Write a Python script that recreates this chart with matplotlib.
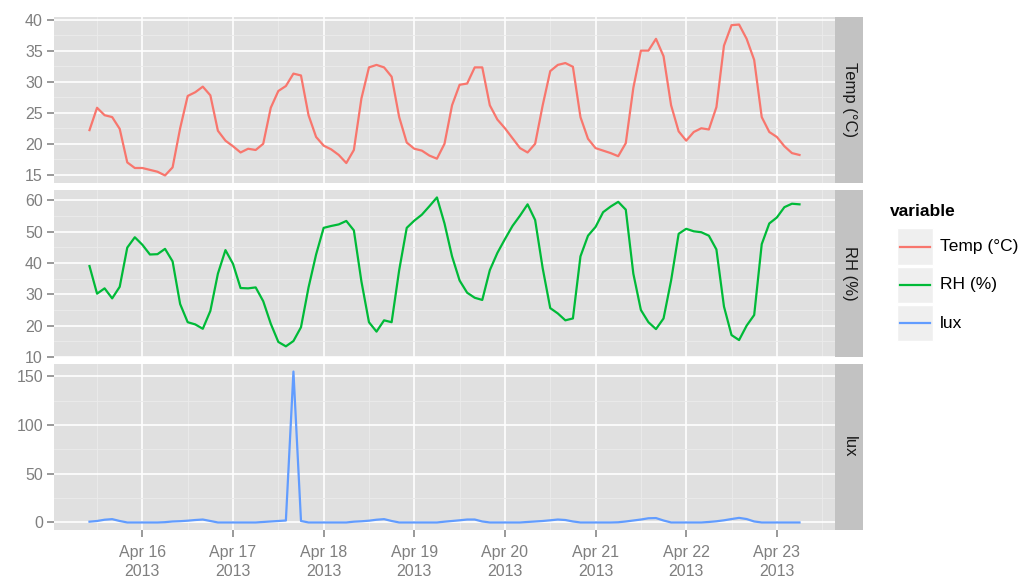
import matplotlib
matplotlib.use('Agg')
import matplotlib.pyplot as plt
import matplotlib.dates as mdates
import matplotlib.ticker as mticker
import pandas as pd
from matplotlib.lines import Line2D
from matplotlib.patches import Rectangle

plt.rcParams['font.family'] = ['Liberation Sans', 'DejaVu Sans']

# readings every 2 hours, Apr 15 10:00 -> Apr 23 06:00
times = pd.date_range('2013-04-15 10:00', periods=95, freq='2h')

temp = [22.2, 25.8, 24.6, 24.3, 22.4, 17.0, 16.1, 16.1, 15.8, 15.5,
        14.9, 16.2, 22.5, 27.7, 28.3, 29.2, 27.8, 22.1, 20.5, 19.6,
        18.6, 19.2, 19.0, 20.0, 25.8, 28.5, 29.3, 31.3, 31.0, 24.6,
        21.1, 19.7, 19.1, 18.2, 16.9, 19.0, 27.3, 32.3, 32.7, 32.3,
        30.8, 24.3, 20.2, 19.2, 18.9, 18.1, 17.6, 20.0, 26.2, 29.5,
        29.7, 32.3, 32.3, 26.2, 23.9, 22.5, 20.9, 19.3, 18.6, 20.0,
        26.2, 31.7, 32.7, 33.0, 32.4, 24.3, 20.8, 19.3, 18.9, 18.5,
        18.0, 20.1, 29.0, 35.0, 35.0, 36.9, 34.1, 26.2, 22.0, 20.5,
        21.9, 22.5, 22.3, 25.9, 35.8, 39.1, 39.2, 36.9, 33.5, 24.3,
        21.9, 21.1, 19.6, 18.5, 18.2]

rh = [39.0, 30.2, 31.9, 28.7, 32.4, 44.9, 48.2, 45.8, 42.7, 42.8,
      44.5, 40.5, 26.9, 21.1, 20.4, 19.0, 24.7, 36.6, 44.1, 39.7,
      32.0, 31.9, 32.2, 27.8, 20.6, 14.8, 13.4, 15.1, 19.5, 32.2,
      42.7, 51.2, 51.8, 52.3, 53.4, 50.4, 34.1, 21.1, 18.1, 21.7,
      21.1, 37.7, 51.2, 53.5, 55.4, 58.1, 60.9, 52.6, 42.1, 34.4,
      30.5, 28.9, 28.2, 37.7, 43.2, 47.6, 51.8, 55.1, 58.7, 53.7,
      38.3, 25.6, 23.9, 21.7, 22.3, 42.1, 48.7, 51.5, 56.2, 58.0,
      59.5, 57.0, 36.6, 25.0, 21.1, 18.9, 22.3, 34.4, 49.3, 50.9,
      50.1, 49.8, 48.7, 44.3, 26.1, 17.0, 15.4, 20.0, 23.4, 46.0,
      52.6, 54.5, 57.8, 58.9, 58.7]

lux = [0.8, 1.5, 2.8, 3.4, 1.5, 0, 0, 0, 0, 0,
       0.3, 1.0, 1.3, 1.8, 2.5, 3.0, 1.5, 0, 0, 0,
       0, 0, 0, 0.5, 1.0, 1.5, 2.0, 155, 1.5, 0,
       0, 0, 0, 0, 0, 0.8, 1.2, 1.8, 2.8, 3.4,
       1.5, 0, 0, 0, 0, 0, 0, 0.8, 1.5, 2.2,
       3.0, 3.0, 1.0, 0, 0, 0, 0, 0, 0.5, 1.0,
       1.5, 2.2, 3.0, 2.5, 1.0, 0, 0, 0, 0, 0,
       0.2, 1.0, 2.0, 3.0, 4.3, 4.5, 2.0, 0, 0, 0,
       0, 0, 0.5, 1.2, 2.2, 3.5, 4.7, 3.5, 1.0, 0,
       0, 0, 0, 0, 0]

names = ['Temp (°C)', 'RH (%)', 'lux']
series = [temp, rh, lux]
colors = ['#F8766D', '#00BA38', '#619CFF']
yticks = [[15, 20, 25, 30, 35, 40], [10, 20, 30, 40, 50, 60], [0, 50, 100, 150]]
yminor = [2.5, 5, 25]

W, H = 1019, 579
def box(x0, y0, x1, y1):
    return [x0 / W, 1 - y1 / H, (x1 - x0) / W, (y1 - y0) / H]

fig = plt.figure(figsize=(W / 100, H / 100), dpi=100)
panels = [(17, 183), (190, 357), (364, 530)]

t0 = mdates.date2num(times[0])
t1 = mdates.date2num(times[-1])
span = t1 - t0
xlim = (t0 - 0.05 * span, t1 + 0.05 * span)

grey = '#7F7F7F'
for i, (top, bot) in enumerate(panels):
    ax = fig.add_axes(box(54, top, 835, bot))
    ax.set_facecolor('#E0E0E0')
    ax.plot(times, series[i], color=colors[i], lw=1.6, zorder=3,
            solid_joinstyle='round')
    ax.set_xlim(xlim)
    ax.set_yticks(yticks[i])
    ax.yaxis.set_minor_locator(mticker.MultipleLocator(yminor[i]))
    ax.xaxis.set_major_locator(mdates.DayLocator())
    ax.xaxis.set_minor_locator(mdates.HourLocator(byhour=[12]))
    ax.xaxis.set_major_formatter(mdates.DateFormatter('%b %d\n%Y'))
    ax.set_axisbelow(True)
    ax.grid(which='major', color='white', lw=1.2)
    ax.grid(which='minor', color='#EBEBEB', lw=0.6)
    for s in ax.spines.values():
        s.set_visible(False)
    ax.tick_params(which='minor', length=0)
    ax.tick_params(axis='y', which='major', length=5, width=1.1, color=grey,
                   labelcolor=grey, labelsize=11.5, pad=3)
    if i < 2:
        ax.tick_params(axis='x', which='major', length=0, labelbottom=False)
    else:
        ax.tick_params(axis='x', which='major', length=5, width=1.1, color=grey,
                       labelcolor=grey, labelsize=11.5, pad=6)
        for lab in ax.get_xticklabels():
            lab.set_linespacing(1.35)

    sax = fig.add_axes(box(835, top, 863, bot))
    sax.set_facecolor('#C2C2C2')
    sax.set_xticks([])
    sax.set_yticks([])
    for s in sax.spines.values():
        s.set_visible(False)
    sax.text(0.5, 0.5, names[i], rotation=270, ha='center', va='center',
             fontsize=12, color='#1A1A1A', transform=sax.transAxes)

# legend
fig.text(890 / W, 1 - 212 / H, 'variable', fontweight='bold', fontsize=12.5,
         va='center', ha='left')
rows = [(228, 265), (267, 303), (305, 341)]
for (y0, y1), name, c in zip(rows, names, colors):
    fig.add_artist(Rectangle((897 / W, 1 - y1 / H), 36 / W, (y1 - y0) / H,
                             transform=fig.transFigure, facecolor='#EFEFEF',
                             edgecolor='white', lw=1))
    yc = 1 - (y0 + y1) / 2 / H
    fig.add_artist(Line2D([900 / W, 930 / W], [yc, yc], transform=fig.transFigure,
                          color=c, lw=1.6))
    fig.text(940 / W, yc, name, fontsize=12.5, va='center', ha='left')

fig.savefig('out.png', dpi=100)
